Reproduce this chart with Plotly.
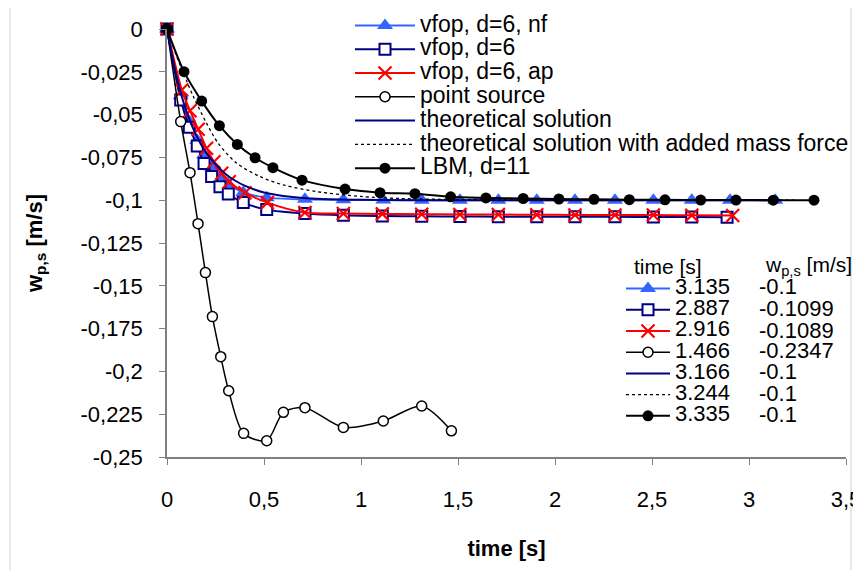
import plotly.graph_objects as go

# ---------------- data ----------------
t_nf = [0, 0.0706, 0.115, 0.156, 0.191, 0.23, 0.273, 0.316, 0.393, 0.514, 0.711, 0.909, 1.115,
        1.313, 1.51, 1.708, 1.906, 2.103, 2.309, 2.507, 2.705, 2.902, 3.135]
w_nf = [0, -0.039, -0.054, -0.065, -0.0735, -0.0805, -0.0865, -0.0905, -0.0955, -0.0985, -0.0995,
        -0.0998, -0.0999, -0.1, -0.1, -0.1, -0.1, -0.1, -0.1, -0.1, -0.1, -0.1, -0.1]

t_d6 = [0, 0.0706, 0.115, 0.156, 0.191, 0.23, 0.273, 0.316, 0.393, 0.514, 0.711, 0.909, 1.11,
        1.313, 1.51, 1.708, 1.906, 2.103, 2.309, 2.507, 2.705, 2.887]
w_d6 = [0, -0.0415, -0.0574, -0.0683, -0.0785, -0.0862, -0.0921, -0.0964, -0.1014, -0.1055, -0.1078,
        -0.1088, -0.1092, -0.1094, -0.1095, -0.1096, -0.1096, -0.1097, -0.1097, -0.1098, -0.1098, -0.1099]

t_ap = [0, 0.076, 0.1186, 0.161, 0.204, 0.242, 0.282, 0.321, 0.402, 0.517, 0.711, 0.909, 1.11,
        1.313, 1.51, 1.708, 1.906, 2.103, 2.309, 2.507, 2.705, 2.916]
w_ap = [0, -0.0356, -0.0477, -0.0586, -0.0697, -0.0775, -0.0843, -0.0892, -0.0956, -0.1014, -0.1072,
        -0.1078, -0.108, -0.1082, -0.1083, -0.1084, -0.1085, -0.1086, -0.1087, -0.1087, -0.1088, -0.1089]

t_ps = [0, 0.0706, 0.1186, 0.160, 0.198, 0.234, 0.277, 0.318, 0.395, 0.514, 0.600, 0.711, 0.909,
        1.115, 1.313, 1.466]
w_ps = [0, -0.0541, -0.0839, -0.1137, -0.1423, -0.168, -0.1914, -0.2113, -0.2362, -0.2405, -0.2239,
        -0.2212, -0.2327, -0.229, -0.2202, -0.2347]

t_th = [0, 0.05, 0.1, 0.15, 0.2, 0.25, 0.3, 0.35, 0.4, 0.5, 0.6, 0.7, 0.8, 1.0, 1.2, 1.5, 2.0, 2.5, 3.166]
w_th = [0, -0.028, -0.048, -0.062, -0.072, -0.079, -0.0845, -0.0885, -0.0915, -0.0955, -0.0975,
        -0.0987, -0.0993, -0.0998, -0.1, -0.1, -0.1, -0.1, -0.1]

t_am = [0, 0.05, 0.1, 0.136, 0.204, 0.264, 0.359, 0.479, 0.6, 0.772, 1.0, 1.2, 1.5, 2.0, 2.5, 3.244]
w_am = [0, -0.016, -0.030, -0.0395, -0.0551, -0.0668, -0.0784, -0.0862, -0.0911, -0.095, -0.0978,
        -0.099, -0.0996, -0.0999, -0.1, -0.1]

t_lbm = [0, 0.0876, 0.179, 0.27, 0.3625, 0.454, 0.546, 0.696, 0.918, 1.098, 1.278, 1.462, 1.644,
         1.836, 2.02, 2.201, 2.383, 2.567, 2.751, 2.933, 3.125, 3.335]
w_lbm = [0, -0.0249, -0.0421, -0.0565, -0.0674, -0.0752, -0.081, -0.0883, -0.0935, -0.0956, -0.0962,
         -0.098, -0.0987, -0.099, -0.0993, -0.0995, -0.0997, -0.0998, -0.0999, -0.0999, -0.1, -0.1]

series_names = ["vfop, d=6, nf", "vfop, d=6", "vfop, d=6, ap", "point source",
                "theoretical solution", "theoretical solution with added mass force", "LBM, d=11"]
final_times = ["3.135", "2.887", "2.916", "1.466", "3.166", "3.244", "3.335"]
final_w = ["-0.1", "-0.1099", "-0.1089", "-0.2347", "-0.1", "-0.1", "-0.1"]

x_tickvals = [0, 0.5, 1, 1.5, 2, 2.5, 3, 3.5]
x_ticktext = ["0", "0,5", "1", "1,5", "2", "2,5", "3", "3,5"]
y_tickvals = [0, -0.025, -0.05, -0.075, -0.1, -0.125, -0.15, -0.175, -0.2, -0.225, -0.25]
y_ticktext = ["0", "-0,025", "-0,05", "-0,075", "-0,1", "-0,125", "-0,15", "-0,175", "-0,2", "-0,225", "-0,25"]

# ---------------- styles ----------------
BLUE = "#3366FF"
NAVY = "#000080"
RED = "#FF0000"
BLACK = "#000000"

styles = [
    dict(mode="lines+markers", line=dict(color=BLUE, width=2),
         marker=dict(symbol="triangle-up", size=14, color=BLUE, line=dict(width=0))),
    dict(mode="lines+markers", line=dict(color=NAVY, width=2),
         marker=dict(symbol="square", size=11, color="white", line=dict(width=2, color=NAVY))),
    dict(mode="lines+markers", line=dict(color=RED, width=2),
         marker=dict(symbol="x-thin-open", size=13, color=RED, line=dict(width=2.2, color=RED))),
    dict(mode="lines+markers", line=dict(color=BLACK, width=1.5),
         marker=dict(symbol="circle", size=10, color="white", line=dict(width=1.5, color=BLACK))),
    dict(mode="lines", line=dict(color=NAVY, width=2)),
    dict(mode="lines", line=dict(color=BLACK, width=1.3, dash="dot")),
    dict(mode="lines+markers", line=dict(color=BLACK, width=2),
         marker=dict(symbol="circle", size=11, color=BLACK)),
]
data = [(t_nf, w_nf), (t_d6, w_d6), (t_ap, w_ap), (t_ps, w_ps), (t_th, w_th), (t_am, w_am), (t_lbm, w_lbm)]

FONT = "Liberation Sans, Arial, sans-serif"


def big(txt, size):
    return "<span style='font-size:%dpx'>%s</span>" % (size, txt)


fig = go.Figure()
for (tx, wy), name, st in zip(data, series_names, styles):
    st2 = dict(st)
    st2["line"] = dict(st["line"], shape="spline", smoothing=0.8)
    fig.add_trace(go.Scatter(x=tx, y=wy, name=big(name, 23), legend="legend", cliponaxis=False, **st2))

# second legend (final values)
for name, st in zip(final_times, styles):
    fig.add_trace(go.Scatter(x=[None], y=[None], name=big(name, 22), legend="legend2", **st))

# page body has an 8px offset: figure is placed at (8, 8) in the screenshot
W, H = 853, 562
L, R, T, B = 159, 15, 21, 113
PW, PH = W - L - R, H - T - B


def px(x):  # screenshot pixel -> paper
    return (x - 8 - L) / PW


def py(y):
    return (H - B - (y - 8)) / PH


row_y = [286.7, 308.3, 330, 350.5, 371.7, 393.3, 414]
annotations = []
for yy, txt in zip(row_y, final_w):
    annotations.append(dict(x=px(757), y=py(yy), xref="paper", yref="paper", text=txt,
                            showarrow=False, xanchor="left", yanchor="middle",
                            font=dict(family=FONT, size=22, color="black")))
annotations.append(dict(x=px(632), y=py(266), xref="paper", yref="paper", text="time [s]",
                        showarrow=False, xanchor="left", yanchor="middle",
                        font=dict(family=FONT, size=21, color="black")))
annotations.append(dict(x=px(763), y=py(266), xref="paper", yref="paper",
                        text="w<sub>p,s</sub> [m/s]",
                        showarrow=False, xanchor="left", yanchor="middle",
                        font=dict(family=FONT, size=21, color="black")))

fig.update_layout(
    width=W, height=H, autosize=False,
    margin=dict(l=L, r=R, t=T, b=B, autoexpand=False),
    paper_bgcolor="white", plot_bgcolor="white",
    font=dict(family=FONT, size=18, color="black"),
    showlegend=True,
    legend=dict(x=px(350), y=py(8.5), xanchor="left", yanchor="top",
                font=dict(family=FONT, size=16, color="black"),
                bgcolor="rgba(0,0,0,0)", borderwidth=0, itemwidth=60,
                traceorder="normal", tracegroupgap=0),
    legend2=dict(x=px(621), y=py(273), xanchor="left", yanchor="top",
                 font=dict(family=FONT, size=14, color="black"),
                 bgcolor="rgba(0,0,0,0)", borderwidth=0, itemwidth=44,
                 traceorder="normal", tracegroupgap=0),
    xaxis=dict(range=[0, 3.5], tickvals=x_tickvals, ticktext=x_ticktext,
               showgrid=False, zeroline=False, showline=True, linecolor="#808080", linewidth=1.5,
               ticks="outside", ticklen=6, tickcolor="#808080", tickwidth=1,
               tickfont=dict(family=FONT, size=22, color="black"), ticklabelstandoff=16,
               ticklabeloverflow="allow",
               title=dict(text="<b>time [s]</b>", font=dict(family=FONT, size=22, color="black"),
                          standoff=29)),
    yaxis=dict(range=[-0.25, 0], tickvals=y_tickvals, ticktext=y_ticktext,
               showgrid=False, zeroline=False, showline=True, linecolor="#808080", linewidth=1.5,
               ticks="outside", ticklen=6, tickcolor="#808080", tickwidth=1,
               tickfont=dict(family=FONT, size=22, color="black"), ticklabelstandoff=12,
               ticklabeloverflow="allow",
               title=dict(text="<b>w<sub>p,s</sub> [m/s]</b>",
                          font=dict(family=FONT, size=22, color="black"), standoff=32)),
    annotations=annotations,
    shapes=[dict(type="rect", xref="paper", yref="paper", x0=px(10), x1=px(851), y0=py(580), y1=py(5),
                 line=dict(color="#d0d0d0", width=1), fillcolor="rgba(0,0,0,0)", layer="below")],
)

fig.write_html("out.html")
